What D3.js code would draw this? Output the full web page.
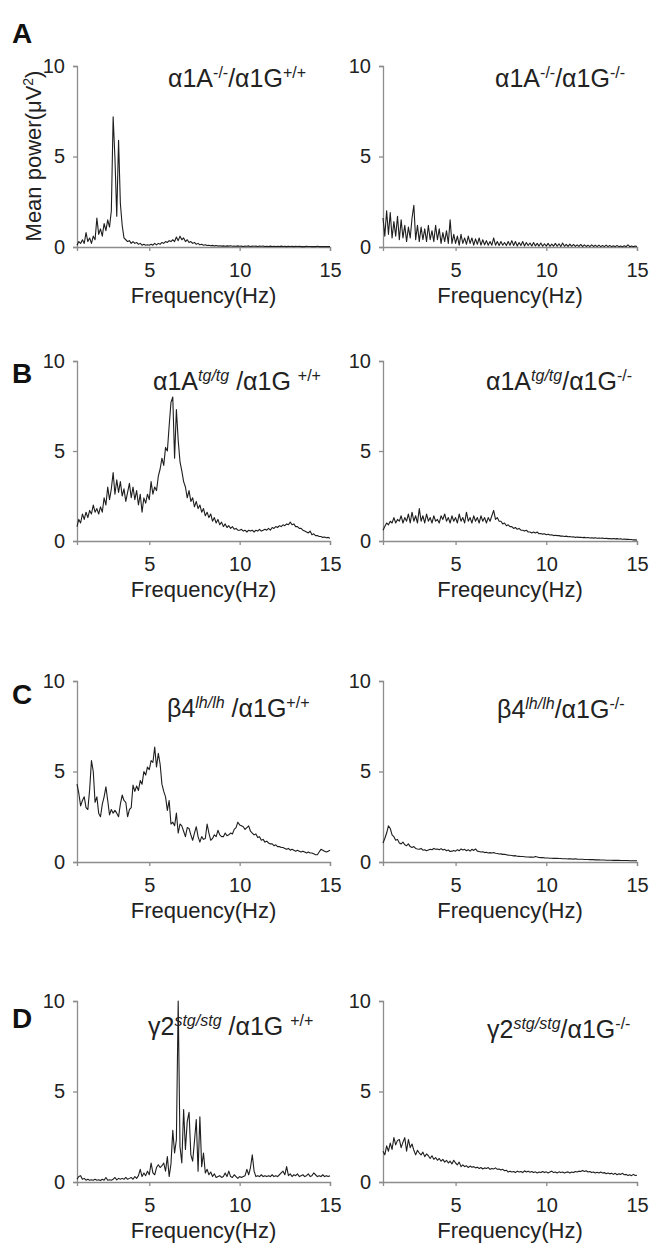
<!DOCTYPE html>
<meta charset="utf-8">
<script src="https://cdn.jsdelivr.net/npm/d3@7"></script>
<style>
body{margin:0;background:#fff;}
text{font-family:"Liberation Sans",Arial,sans-serif;}
.axis .domain,.axis line{stroke:#8c8c8c;stroke-width:1.3;}
.axis text{fill:#222;font-size:20px;}
</style>
<body>
<script>
// frequency grid (Hz), 0.1 Hz steps
var freq=[1,1.1,1.2,1.3,1.4,1.5,1.6,1.7,1.8,1.9,
2,2.1,2.2,2.3,2.4,2.5,2.6,2.7,2.8,2.9,
3,3.1,3.2,3.3,3.4,3.5,3.6,3.7,3.8,3.9,
4,4.1,4.2,4.3,4.4,4.5,4.6,4.7,4.8,4.9,
5,5.1,5.2,5.3,5.4,5.5,5.6,5.7,5.8,5.9,
6,6.1,6.2,6.3,6.4,6.5,6.6,6.7,6.8,6.9,
7,7.1,7.2,7.3,7.4,7.5,7.6,7.7,7.8,7.9,
8,8.1,8.2,8.3,8.4,8.5,8.6,8.7,8.8,8.9,
9,9.1,9.2,9.3,9.4,9.5,9.6,9.7,9.8,9.9,
10,10.1,10.2,10.3,10.4,10.5,10.6,10.7,10.8,10.9,
11,11.1,11.2,11.3,11.4,11.5,11.6,11.7,11.8,11.9,
12,12.1,12.2,12.3,12.4,12.5,12.6,12.7,12.8,12.9,
13,13.1,13.2,13.3,13.4,13.5,13.6,13.7,13.8,13.9,
14,14.1,14.2,14.3,14.4,14.5,14.6,14.7,14.8,14.9,
15];

var xTicks=[5,10,15];
var yTicks=[0,5,10];
var panelLetters=["A","B","C","D"];
var xLabels=["Frequency(Hz)","Frequency(Hz)","Frequency(Hz)","Freqeuncy(Hz)",
             "Frequency(Hz)","Frequency(Hz)","Frequency(Hz)","Frequency(Hz)"];
var yLabel="Mean power(\u03bcV";

// mean power (uV^2) for each genotype
var aWT=[0.1,0.3,0.2,0.4,0.2,0.8,0.3,0.5,0.2,0.6,
0.4,1.6,0.7,1.0,0.6,1.3,0.9,1.5,1.1,2.0,
7.2,4.9,1.7,5.9,2.4,1.2,0.5,0.4,0.3,0.35,
0.2,0.3,0.2,0.25,0.15,0.2,0.1,0.15,0.1,0.12,
0.1,0.15,0.1,0.2,0.12,0.2,0.15,0.25,0.2,0.3,
0.25,0.35,0.3,0.4,0.3,0.55,0.35,0.6,0.4,0.5,
0.3,0.4,0.25,0.3,0.2,0.25,0.15,0.2,0.12,0.15,
0.1,0.12,0.08,0.1,0.07,0.09,0.06,0.08,0.05,0.07,
0.05,0.06,0.04,0.06,0.05,0.07,0.04,0.05,0.04,0.06,
0.04,0.05,0.03,0.05,0.04,0.06,0.03,0.05,0.04,0.05,
0.03,0.05,0.04,0.05,0.03,0.04,0.03,0.05,0.03,0.04,
0.03,0.04,0.03,0.05,0.03,0.04,0.02,0.04,0.03,0.04,
0.02,0.04,0.03,0.04,0.02,0.03,0.02,0.04,0.03,0.03,
0.02,0.03,0.02,0.04,0.02,0.03,0.02,0.03,0.02,0.03,
0.02];
var aKO=[1.6,0.6,2.0,0.7,1.9,0.5,1.4,0.6,1.7,0.4,
1.5,0.5,1.2,0.3,1.1,0.5,1.6,2.3,0.4,1.2,
0.3,1.1,0.4,1.0,0.3,1.2,0.4,0.9,0.3,1.2,
0.4,1.0,0.2,0.8,0.3,0.9,0.2,1.5,0.2,0.7,
0.2,0.6,0.1,0.7,0.2,0.5,0.15,0.6,0.2,0.5,
0.1,0.45,0.15,0.5,0.1,0.4,0.12,0.35,0.1,0.3,
0.1,0.5,0.1,0.3,0.08,0.3,0.1,0.25,0.08,0.3,
0.1,0.35,0.08,0.3,0.06,0.25,0.08,0.3,0.06,0.25,
0.08,0.22,0.05,0.25,0.06,0.2,0.05,0.22,0.04,0.18,
0.05,0.2,0.04,0.16,0.05,0.2,0.04,0.18,0.03,0.22,
0.04,0.15,0.03,0.16,0.04,0.14,0.03,0.12,0.03,0.14,
0.02,0.12,0.03,0.1,0.02,0.12,0.03,0.1,0.02,0.1,
0.02,0.08,0.02,0.1,0.02,0.08,0.02,0.07,0.02,0.08,
0.02,0.06,0.02,0.07,0.02,0.12,0.02,0.06,0.02,0.05,
0.03];
var bWT=[0.8,1.2,1.0,1.5,1.2,1.6,1.3,1.7,1.5,2.0,
1.6,1.8,1.5,1.9,1.6,2.4,2.0,3.0,2.3,2.9,
3.8,2.6,3.4,2.7,3.3,2.5,2.9,2.2,2.7,3.2,
2.4,3.0,2.3,2.8,2.0,2.6,1.6,2.4,2.1,2.6,
2.3,3.3,2.6,3.0,2.8,3.6,4.0,4.6,4.2,5.2,
5.0,6.4,7.7,8.0,4.6,7.3,5.6,4.4,3.9,3.3,
3.0,2.4,2.8,2.2,2.4,1.9,2.2,1.8,2.0,1.6,
1.8,1.4,1.6,1.3,1.5,1.1,1.3,1.0,1.2,0.9,
1.05,0.8,0.95,0.75,0.85,0.7,0.8,0.65,0.7,0.6,
0.6,0.65,0.55,0.6,0.5,0.6,0.55,0.6,0.5,0.6,
0.55,0.65,0.55,0.6,0.65,0.6,0.7,0.6,0.75,0.7,
0.8,0.75,0.85,0.8,0.9,0.85,0.95,0.9,1.05,0.9,
0.95,0.8,0.8,0.7,0.7,0.6,0.55,0.5,0.45,0.55,
0.35,0.4,0.3,0.3,0.25,0.25,0.2,0.22,0.18,0.2,
0.15];
var bKO=[0.6,0.8,1.0,0.9,1.1,1.0,1.3,1.0,1.2,1.1,
1.4,1.0,1.3,1.1,1.5,1.0,1.6,1.1,1.4,1.0,
1.8,1.1,1.4,1.0,1.5,1.1,1.3,1.0,1.4,1.1,
1.2,1.0,1.4,1.2,1.5,1.1,1.3,1.0,1.4,1.1,
1.3,1.0,1.5,1.1,1.3,1.0,1.6,1.1,1.3,1.0,
1.4,1.1,1.3,1.0,1.4,1.1,1.3,1.0,1.3,1.1,
1.4,1.7,1.2,1.3,1.1,1.1,0.95,1.0,0.85,0.9,
0.8,0.8,0.7,0.75,0.65,0.7,0.6,0.6,0.55,0.6,
0.5,0.5,0.45,0.5,0.45,0.5,0.4,0.42,0.38,0.4,
0.35,0.38,0.33,0.35,0.3,0.32,0.3,0.3,0.27,0.28,
0.25,0.27,0.24,0.25,0.22,0.24,0.2,0.22,0.2,0.21,
0.19,0.2,0.18,0.19,0.17,0.18,0.16,0.18,0.15,0.16,
0.15,0.16,0.14,0.15,0.13,0.14,0.12,0.14,0.12,0.13,
0.11,0.12,0.1,0.11,0.09,0.1,0.08,0.08,0.06,0.07,
0.05];
var cWT=[4.3,3.8,3.1,3.4,3.6,3.0,2.9,4.0,5.6,5.0,
3.3,3.6,2.7,2.5,3.2,3.6,4.15,3.4,2.6,2.9,
2.7,2.85,2.7,2.5,3.2,3.7,3.4,3.3,2.5,2.9,
3.0,4.25,3.9,4.2,3.95,4.5,4.3,5.0,4.8,5.25,
5.1,5.6,5.5,6.35,5.25,6.0,5.4,4.3,3.9,3.6,
2.85,3.4,2.1,2.2,2.0,2.7,1.6,2.1,2.0,1.7,
1.4,1.9,1.85,1.5,1.2,1.6,1.95,1.4,1.1,1.4,
1.25,1.3,2.1,1.6,1.2,1.3,1.5,1.4,1.75,1.5,
1.4,1.4,1.6,1.45,1.5,1.6,1.55,1.8,1.9,2.2,
2.05,2.0,1.95,1.8,1.9,2.0,1.7,1.6,1.5,1.55,
1.35,1.4,1.2,1.25,1.1,1.15,1.05,1.0,1.0,0.9,
0.95,0.85,0.85,0.8,0.8,0.75,0.7,0.75,0.65,0.7,
0.65,0.6,0.65,0.6,0.55,0.6,0.55,0.5,0.55,0.5,
0.5,0.45,0.4,0.4,0.55,0.7,0.65,0.6,0.55,0.6,
0.65];
var cKO=[1.05,1.3,1.6,2.0,1.85,1.5,1.4,1.2,1.25,1.05,
1.0,1.1,0.95,0.9,1.0,0.85,0.8,0.85,0.75,0.72,
0.7,0.75,0.65,0.68,0.62,0.66,0.7,0.68,0.75,0.7,
0.72,0.68,0.74,0.66,0.7,0.62,0.66,0.58,0.6,0.64,
0.6,0.68,0.62,0.72,0.66,0.7,0.62,0.68,0.6,0.7,
0.64,0.72,0.6,0.58,0.55,0.56,0.52,0.54,0.5,0.52,
0.5,0.52,0.48,0.47,0.44,0.45,0.42,0.42,0.4,0.38,
0.37,0.36,0.34,0.35,0.32,0.31,0.3,0.3,0.29,0.28,
0.28,0.27,0.27,0.26,0.3,0.28,0.25,0.24,0.25,0.23,
0.22,0.22,0.21,0.21,0.2,0.2,0.2,0.19,0.19,0.18,
0.18,0.18,0.17,0.17,0.17,0.16,0.18,0.16,0.15,0.15,
0.15,0.14,0.14,0.14,0.13,0.13,0.13,0.12,0.12,0.12,
0.11,0.11,0.11,0.1,0.1,0.1,0.1,0.09,0.09,0.09,
0.09,0.08,0.08,0.08,0.08,0.08,0.07,0.07,0.07,0.07,
0.07];
var dWT=[0.15,0.3,0.35,0.15,0.2,0.1,0.15,0.1,0.12,0.1,
0.15,0.1,0.12,0.08,0.15,0.1,0.25,0.1,0.12,0.1,
0.15,0.25,0.12,0.2,0.15,0.2,0.15,0.25,0.15,0.2,
0.25,0.15,0.3,0.2,0.35,0.7,0.3,0.5,0.35,0.6,
0.4,1.05,0.5,0.4,0.8,0.95,0.8,0.9,1.05,0.6,
1.4,0.3,1.0,2.85,1.6,2.35,10.0,1.95,1.05,4.0,
1.8,3.35,3.85,1.5,1.15,2.25,3.45,0.6,3.6,0.85,
1.6,0.5,0.7,0.4,0.55,0.3,0.45,0.25,0.3,0.35,
0.25,0.3,0.5,0.3,0.6,0.3,0.25,0.4,0.3,0.2,
0.3,0.25,0.3,0.35,0.7,0.4,0.8,1.5,0.6,0.3,
0.35,0.3,0.4,0.3,0.35,0.3,0.35,0.3,0.4,0.3,
0.35,0.3,0.4,0.5,0.6,0.4,0.85,0.35,0.45,0.3,
0.4,0.35,0.45,0.3,0.35,0.4,0.3,0.35,0.45,0.3,
0.35,0.5,0.4,0.3,0.35,0.3,0.4,0.3,0.35,0.3,
0.35];
var dKO=[1.7,1.5,2.0,1.7,2.15,1.8,2.45,2.05,2.3,2.35,
1.9,2.2,2.45,1.7,2.35,1.9,2.1,1.75,1.5,1.75,
1.6,1.5,1.65,1.4,1.55,1.45,1.3,1.45,1.25,1.35,
1.2,1.3,1.15,1.25,1.1,1.2,1.05,1.15,1.0,1.2,
1.05,0.95,1.1,0.85,0.95,0.85,0.9,0.8,0.88,0.82,
0.85,0.78,0.82,0.75,0.8,0.72,0.78,0.75,0.8,0.7,
0.75,0.72,0.78,0.7,0.72,0.66,0.7,0.62,0.65,0.55,
0.6,0.55,0.58,0.52,0.6,0.55,0.58,0.52,0.62,0.55,
0.6,0.54,0.58,0.52,0.56,0.5,0.55,0.52,0.58,0.52,
0.56,0.5,0.55,0.6,0.52,0.55,0.5,0.56,0.52,0.55,
0.5,0.54,0.56,0.5,0.55,0.52,0.58,0.55,0.6,0.58,
0.63,0.58,0.62,0.55,0.58,0.52,0.55,0.5,0.54,0.5,
0.55,0.5,0.52,0.46,0.5,0.45,0.48,0.42,0.48,0.4,
0.45,0.42,0.48,0.4,0.42,0.36,0.4,0.35,0.42,0.36,
0.37];

// genotype labels: [text, kind] kind "" normal, "s" superscript, "si" italic superscript
var titles=[
 [["\u03b11A",""],["-/-","s"],["/\u03b11G",""],["+/+","s"]],
 [["\u03b11A",""],["-/-","s"],["/\u03b11G",""],["-/-","s"]],
 [["\u03b11A",""],["tg/tg","si"],[" /\u03b11G ",""],["+/+","s"]],
 [["\u03b11A",""],["tg/tg","si"],["/\u03b11G",""],["-/-","s"]],
 [["\u03b24",""],["lh/lh","si"],[" /\u03b11G",""],["+/+","s"]],
 [["\u03b24",""],["lh/lh","si"],["/\u03b11G",""],["-/-","s"]],
 [["\u03b32",""],["stg/stg","si"],[" /\u03b11G ",""],["+/+","s"]],
 [["\u03b32",""],["stg/stg","si"],["/\u03b11G",""],["-/-","s"]]
];
var series=[aWT,aKO,bWT,bKO,cWT,cKO,dWT,dKO];

// layout
var rowTop=[66,361,681,1001], rowBottom=[247,541,862,1182];
var colLeft=[77,383], colRight=[330,637];
var titlePos=[[168,87],[495,87],[153,390],[486,390],[167,717],[497,718],[148,1035],[487,1038]];
var letterY=[43,383,704,1028];

var svg=d3.select("body").append("svg").attr("width",649).attr("height",1247);

series.forEach(function(vals,k){
  var r=Math.floor(k/2), c=k%2;
  var x=d3.scaleLinear().domain([1,15]).range([colLeft[c],colRight[c]]);
  var y=d3.scaleLinear().domain([0,10]).range([rowBottom[r],rowTop[r]]);
  var g=svg.append("g");

  g.append("g").attr("class","axis")
    .attr("transform","translate(0,"+rowBottom[r]+")")
    .call(d3.axisBottom(x).tickValues(xTicks).tickSizeOuter(0).tickSize(4).tickPadding(12));
  g.append("g").attr("class","axis")
    .attr("transform","translate("+colLeft[c]+",0)")
    .call(d3.axisLeft(y).tickValues(yTicks).tickSizeOuter(0).tickSize(4).tickPadding(8));

  var line=d3.line()
    .x(function(d,i){return x(freq[i]);})
    .y(function(d){return y(d);});
  g.append("path").datum(vals)
    .attr("d",line)
    .attr("fill","none")
    .attr("stroke","#1e1e1e")
    .attr("stroke-width",1.1)
    .attr("stroke-linejoin","round");

  g.append("text")
    .attr("x",(colLeft[c]+colRight[c])/2)
    .attr("y",rowBottom[r]+56)
    .attr("text-anchor","middle")
    .style("font-size","22px").attr("fill","#222")
    .text(xLabels[k]);

  var t=g.append("text")
    .attr("x",titlePos[k][0]).attr("y",titlePos[k][1])
    .style("font-size","25px").style("white-space","pre").attr("fill","#222");
  var up=false;
  titles[k].forEach(function(p){
    var ts=t.append("tspan").text(p[0]);
    if(p[1]){
      ts.attr("dy",up?0:-9).style("font-size","16px");
      if(p[1]=="si") ts.style("font-style","italic");
      up=true;
    }else{
      ts.attr("dy",up?9:0);
      up=false;
    }
  });
});

panelLetters.forEach(function(l,i){
  svg.append("text").attr("x",12).attr("y",letterY[i])
    .style("font-size","28px").style("font-weight","bold").attr("fill","#111")
    .text(l);
});

var yl=svg.append("text")
  .attr("transform","translate(41,156) rotate(-90)")
  .attr("text-anchor","middle")
  .style("font-size","22px").attr("fill","#222");
yl.append("tspan").text(yLabel);
yl.append("tspan").text("2").style("font-size","14px").attr("dy",-8);
yl.append("tspan").text(")").attr("dy",8);
</script>
</body>
